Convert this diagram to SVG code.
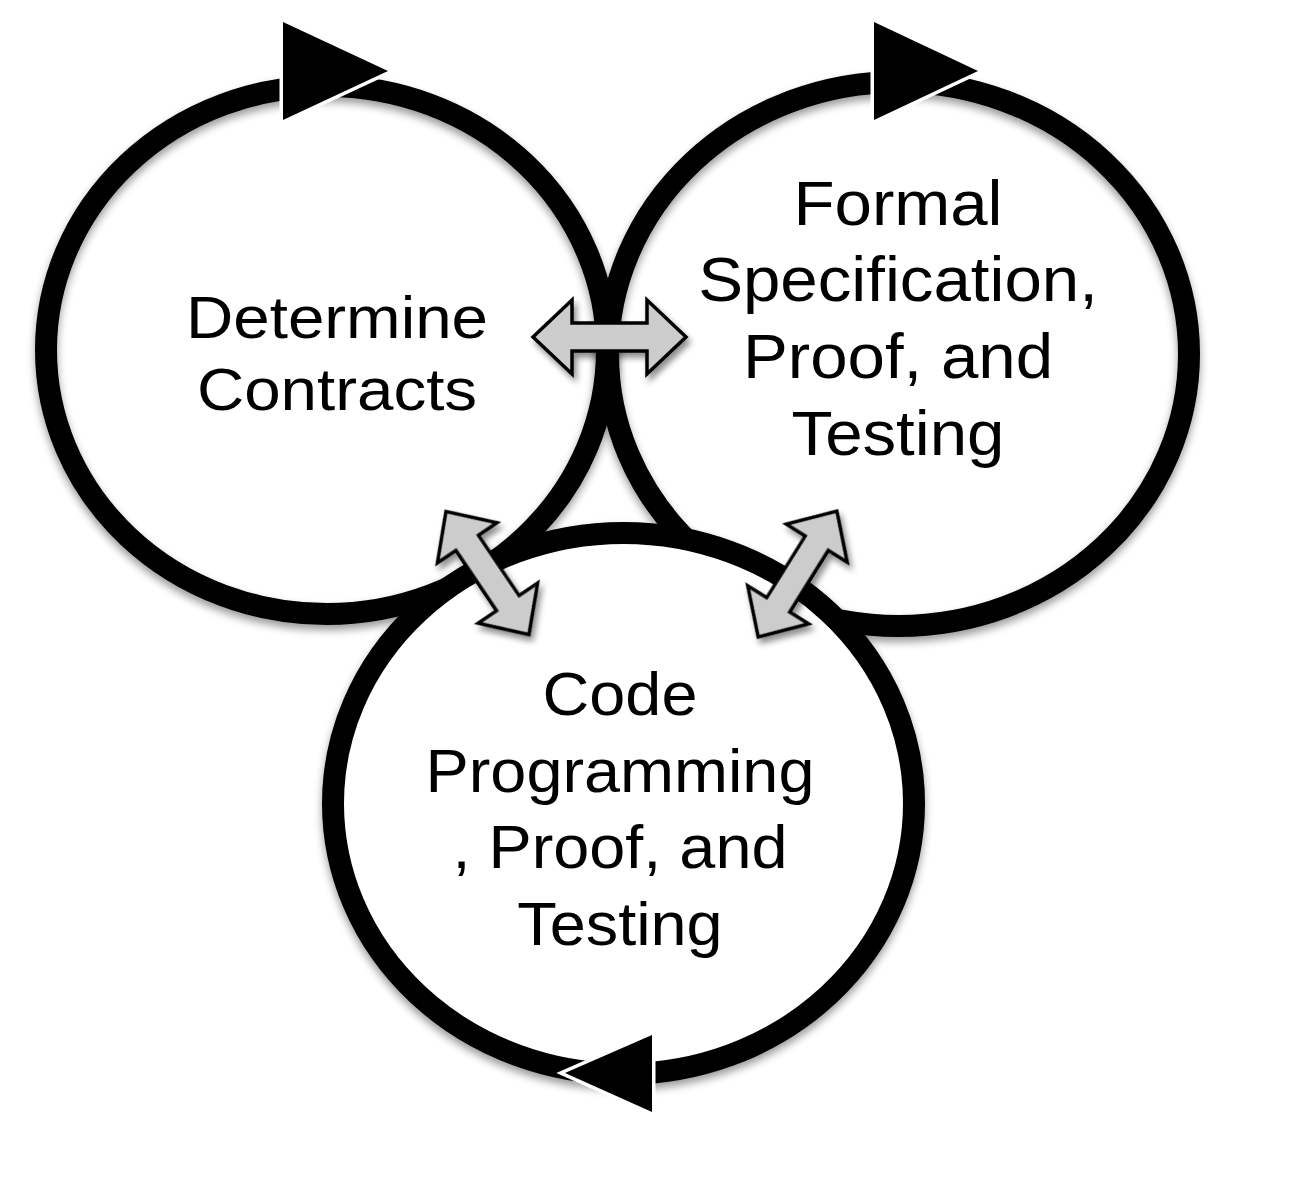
<svg xmlns="http://www.w3.org/2000/svg" width="1291" height="1195" viewBox="0 0 1291 1195">
<style>
.ring{fill:none;stroke:#000;stroke-width:22}
.ringf{fill:#fff;stroke:#000;stroke-width:22}
.head{fill:#000;stroke:#fff;stroke-width:7;paint-order:stroke;stroke-linejoin:miter}
.dbl{fill:#cccccc;stroke:#000;stroke-width:3.5;stroke-linejoin:miter}
.lbl{font-family:"Liberation Sans",Arial,Helvetica,sans-serif;fill:#000;text-anchor:middle}
</style>
<defs>
<filter id="sh" x="-20%" y="-20%" width="140%" height="140%">
<feGaussianBlur in="SourceAlpha" stdDeviation="4"/>
<feOffset dx="0" dy="5" result="b"/>
<feComponentTransfer><feFuncA type="linear" slope="0.4"/></feComponentTransfer>
<feMerge><feMergeNode/><feMergeNode in="SourceGraphic"/></feMerge>
</filter>
<filter id="sh2" x="-30%" y="-30%" width="160%" height="160%">
<feGaussianBlur in="SourceAlpha" stdDeviation="3"/>
<feOffset dx="3" dy="5" result="b"/>
<feComponentTransfer><feFuncA type="linear" slope="0.45"/></feComponentTransfer>
<feMerge><feMergeNode/><feMergeNode in="SourceGraphic"/></feMerge>
</filter>
<path id="dblArrow" d="M -76.5 0 L -37.5 -37 L -37.5 -14 L 37.5 -14 L 37.5 -37 L 76.5 0 L 37.5 37 L 37.5 14 L -37.5 14 L -37.5 37 Z"/>
</defs>

<g id="node-contracts">
<ellipse class="ring" cx="326.5" cy="350" rx="280.5" ry="264" filter="url(#sh)"/>
<polygon class="head" points="283,22 388,71 283,120"/>
<text class="lbl" font-size="59" transform="translate(337,0) scale(1.11,1)"><tspan x="0" y="338">Determine</tspan><tspan x="0" y="410">Contracts</tspan></text>
</g>

<g id="node-formal">
<ellipse class="ring" cx="898.5" cy="354" rx="290.5" ry="272" filter="url(#sh)"/>
<polygon class="head" points="874,22 978,71 874,120"/>
<text class="lbl" font-size="63" transform="translate(898,0) scale(1.067,1)"><tspan x="0" y="225">Formal</tspan><tspan x="0" y="301">Specification,</tspan><tspan x="0" y="378">Proof, and</tspan><tspan x="0" y="455">Testing</tspan></text>
</g>

<g id="node-code">
<ellipse class="ringf" cx="623.5" cy="803.5" rx="290.5" ry="270.5" filter="url(#sh)"/>
<polygon class="head" points="652,1035 565,1073 652,1112"/>
<text class="lbl" font-size="62" transform="translate(620,0) scale(1.045,1)"><tspan x="0" y="715">Code</tspan><tspan x="0" y="792">Programming</tspan><tspan x="0" y="868">, Proof, and</tspan><tspan x="0" y="945">Testing</tspan></text>
</g>

<g id="connectors" filter="url(#sh2)">
<use href="#dblArrow" class="dbl" transform="translate(609.5,337)"/>
<use href="#dblArrow" class="dbl" transform="translate(487.5,573) rotate(56) scale(0.97)"/>
<use href="#dblArrow" class="dbl" transform="translate(797.5,574) rotate(-58) scale(0.97)"/>
</g>
</svg>
